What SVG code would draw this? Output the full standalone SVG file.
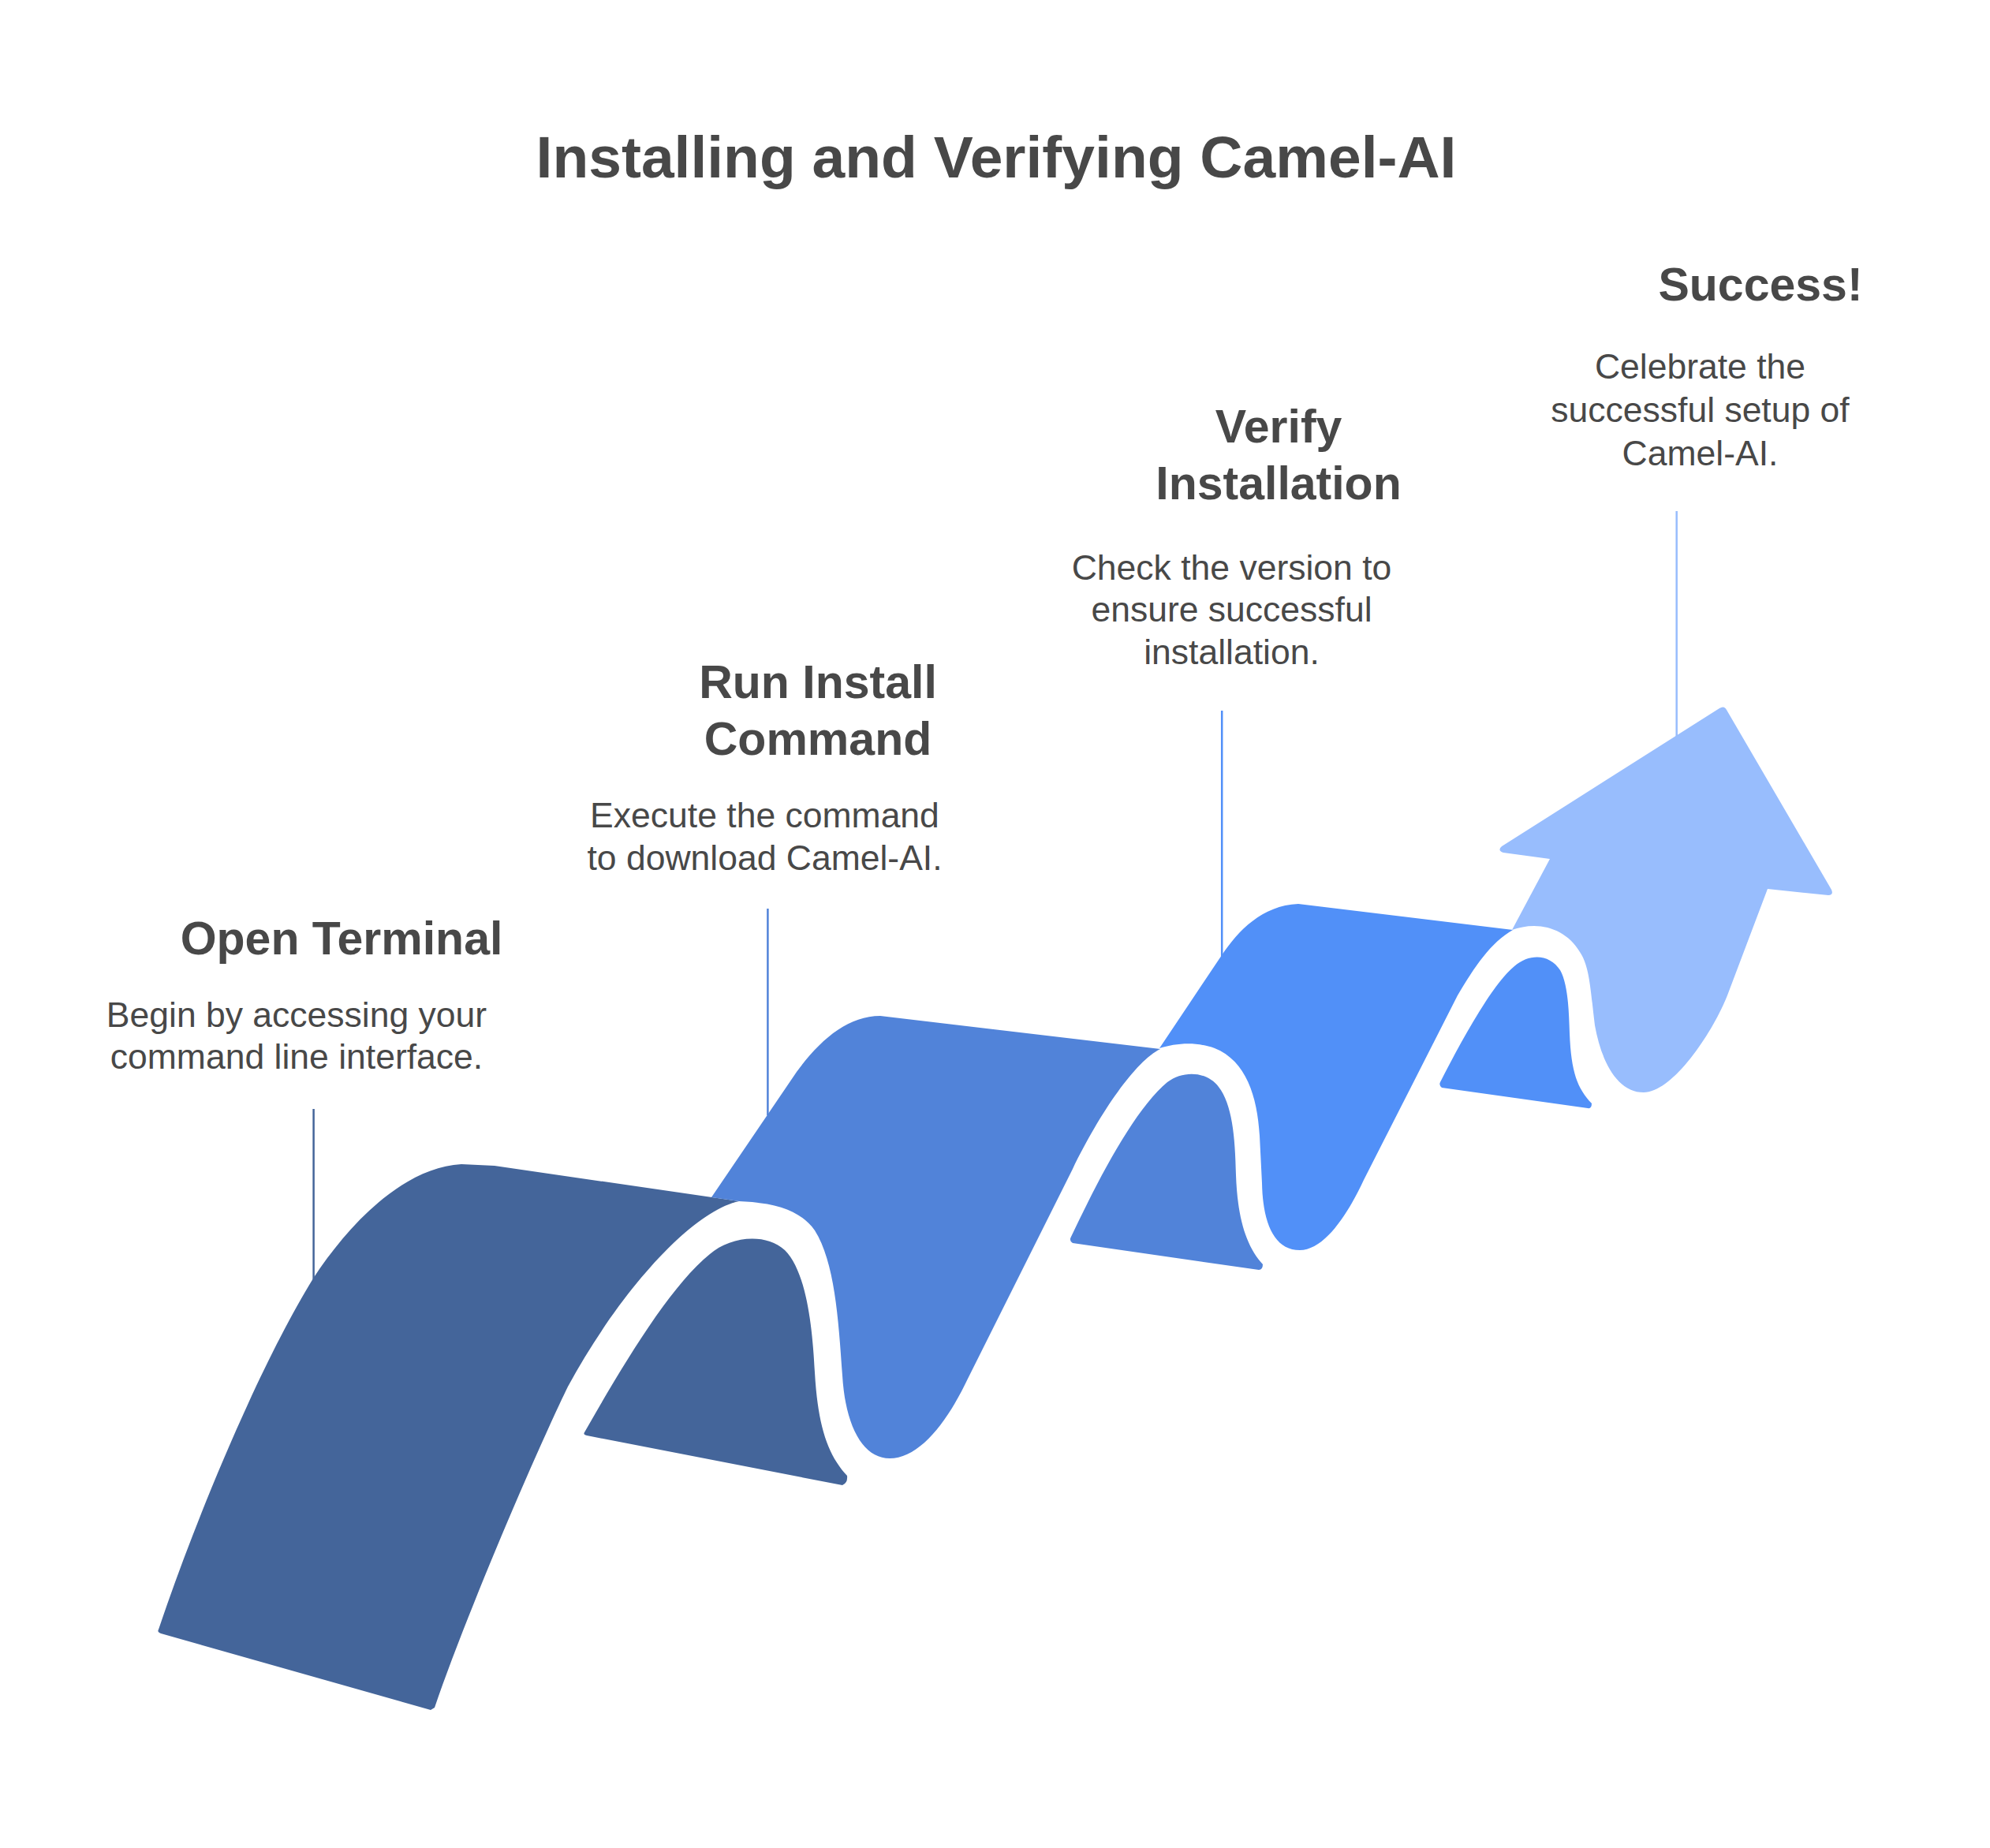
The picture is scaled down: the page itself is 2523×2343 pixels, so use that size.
<svg xmlns="http://www.w3.org/2000/svg" width="2523" height="2343" viewBox="0 0 2523 2343">
<style>
text { font-family: "Liberation Sans", Arial, sans-serif; fill: #484848; text-anchor: middle; }
.title { font-size: 75px; font-weight: bold; }
.head { font-size: 59px; font-weight: bold; }
.desc { font-size: 44.5px; }
.c1 { fill: #44659A; } .c2 { fill: #5183D9; } .c3 { fill: #5190F8; } .c4 { fill: #98BDFD; }
.l1 { stroke: #44659A; } .l2 { stroke: #5183D9; } .l3 { stroke: #5190F8; } .l4 { stroke: #98BDFD; }
line { stroke-width: 2.5; }
</style>
<rect width="2523" height="2343" fill="#ffffff"/>
<g id="title"><text class="title" x="1263" y="225">Installing and Verifying Camel-AI</text></g>
<g id="connectors">
<line class="l1" x1="397.6" y1="1406" x2="397.6" y2="1624"/>
<line class="l2" x1="973.4" y1="1152" x2="973.4" y2="1414"/>
<line class="l3" x1="1549.2" y1="901" x2="1549.2" y2="1213"/>
<line class="l4" x1="2125.7" y1="648" x2="2125.7" y2="936"/>
</g>
<g id="step-1">
<path class="c1" d="M 201,2066 C 250,1920 330,1730 397,1621 C 440,1555 510,1480 585,1476 L 627,1478 L 937,1523 C 880,1535 790,1630 720,1758 C 680,1840 590,2050 551,2165 L 546,2168 L 204,2071 Q 199,2069 201,2066 Z"/>
<path class="c1" d="M 741,1816 C 790,1730 850,1630 900,1590 C 925,1568 970,1562 995,1585 C 1022,1612 1030,1680 1033,1740 C 1037,1810 1050,1845 1074,1871 Q 1075,1880 1068,1883 L 744,1820 Q 739,1819 741,1816 Z"/>
<text class="head" x="433" y="1210">Open Terminal</text>
<text class="desc" x="376" y="1302">Begin by accessing your</text>
<text class="desc" x="376" y="1355">command line interface.</text>
</g>
<g id="step-2">
<path class="c2" d="M 902,1518 L 1010,1359 C 1040,1318 1075,1288 1116,1288 L 1471,1330 C 1440,1345 1395,1410 1360,1482 L 1227,1748 C 1200,1805 1165,1849 1128,1849 C 1095,1849 1072,1810 1068,1744 C 1063,1670 1058,1600 1033,1560 C 1015,1535 985,1525 937,1523 Z"/>
<path class="c2" d="M 1358,1568 C 1395,1490 1440,1405 1480,1372 C 1500,1357 1530,1358 1545,1378 C 1562,1400 1566,1440 1567,1490 C 1569,1545 1580,1580 1601,1603 Q 1601,1610 1596,1610 L 1360,1576 Q 1355,1573 1358,1568 Z"/>
<text class="head" x="1037" y="885">Run Install</text>
<text class="head" x="1037" y="957">Command</text>
<text class="desc" x="969.5" y="1049">Execute the command</text>
<text class="desc" x="969.5" y="1103">to download Camel-AI.</text>
</g>
<g id="step-3">
<path class="c3" d="M 1470,1329 L 1549,1211 C 1570,1180 1600,1148 1646,1146 L 1918,1179 C 1890,1195 1870,1225 1848,1262 L 1729,1496 C 1710,1537 1680,1585 1648,1585 C 1615,1585 1601,1550 1600,1500 L 1597,1440 C 1594,1390 1580,1345 1540,1329 C 1515,1320 1490,1323 1470,1329 Z"/>
<path class="c3" d="M 1826,1372 C 1850,1325 1890,1250 1920,1225 C 1940,1208 1965,1210 1978,1230 C 1988,1248 1989,1280 1990,1310 C 1992,1360 2000,1380 2018,1399 Q 2018,1406 2013,1405 L 1828,1379 Q 1824,1376 1826,1372 Z"/>
<text class="head" x="1621" y="561">Verify</text>
<text class="head" x="1621" y="633">Installation</text>
<text class="desc" x="1561.5" y="735">Check the version to</text>
<text class="desc" x="1561.5" y="788">ensure successful</text>
<text class="desc" x="1561.5" y="842">installation.</text>
</g>
<g id="step-4">
<path class="c4" d="M 1917,1179 L 1965,1089 L 1906,1081 Q 1898,1078 1904,1073 L 2180,898 Q 2186,894 2189,900 L 2322,1128 Q 2325,1135 2318,1135 L 2241,1127 L 2190,1262 C 2170,1312 2120,1385 2084,1385 C 2050,1385 2030,1345 2022,1300 C 2016,1250 2015,1225 2003,1207 C 1990,1185 1968,1174 1945,1174 C 1935,1174 1925,1176 1917,1179 Z"/>
<text class="head" x="2232" y="381">Success!</text>
<text class="desc" x="2155.5" y="480">Celebrate the</text>
<text class="desc" x="2155.5" y="535">successful setup of</text>
<text class="desc" x="2155.5" y="590">Camel-AI.</text>
</g>
</svg>
